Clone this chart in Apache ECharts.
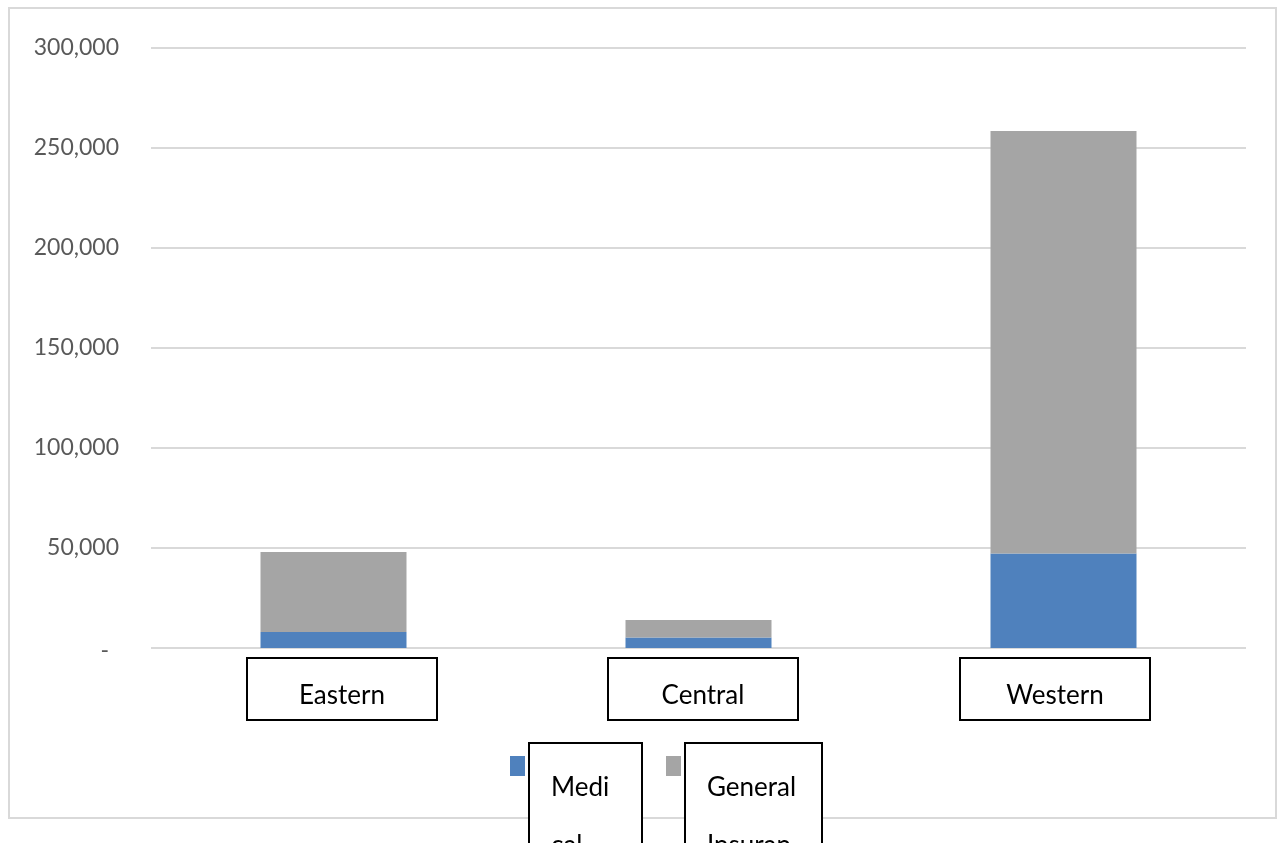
<!DOCTYPE html>
<html>
<head>
<meta charset="utf-8">
<script src="https://cdn.jsdelivr.net/npm/echarts@6/dist/echarts.min.js"></script>
<style>
  html, body { margin: 0; padding: 0; background: #fff; }
  #frame {
    position: absolute; left: 8px; top: 7px;
    width: 1265px; height: 808px;
    border: 2px solid #d9d9d9;
  }
  #chart { position: absolute; left: 0; top: 0; width: 1282px; height: 843px; }
</style>
</head>
<body>
<div id="frame"></div>
<div id="chart"></div>
<script>
const categories = ['Eastern', 'Central', 'Western'];
const seriesNames = ['Medical', 'General Insurance'];
const legendLabels = ['Medi\ncal', 'General\nInsuran\nce'];
const medical = [8000, 5200, 47300];
const general = [40000, 8800, 211200];
const yMin = 0;
const yMax = 300000;
const yStep = 50000;

const font = 'Lato';
const colors = ['#4f81bd', '#a5a5a5'];

// legend boxes: text box centred on the icon, so the icon path is as tall as the box
const lineH = 58;
const padTop = 9;
const padBottom = 20;

function boxLegend(i, left, contentWidth) {
  const label = legendLabels[i];
  const h = padTop + label.split('\n').length * lineH + padBottom;
  return {
    data: [seriesNames[i]],
    left: left,
    top: 742,
    padding: 0,
    itemWidth: 15,
    itemHeight: h,
    icon: 'path://M0 0H15M0 12H15V32H0ZM0 ' + h + 'H15',
    selectedMode: false,
    formatter: function() { return label; },
    textStyle: {
      fontFamily: font,
      fontSize: 26,
      color: '#000',
      lineHeight: lineH,
      width: contentWidth,
      padding: [padTop, 10, padBottom, 21],
      borderColor: '#000',
      borderWidth: 2,
      backgroundColor: '#fff'
    }
  };
}

// category label boxes sit a little off the tick, pushed by an empty spacer token
const spacerBefore = [17, 9, 0];
const spacerAfter = [0, 0, 17];

const chart = echarts.init(document.getElementById('chart'));
const option = {
  animation: false,
  grid: {
    left: 151,
    right: 36,
    top: 48,
    bottom: 195
  },
  legend: [
    boxLegend(0, 510, 80),
    boxLegend(1, 666, 104)
  ],
  xAxis: {
    type: 'category',
    data: categories,
    axisLine: { show: false },
    axisTick: { show: false },
    axisLabel: {
      margin: 10,
      interval: 0,
      formatter: function(v, idx) {
        let s = '';
        if (spacerBefore[idx]) s += '{s' + spacerBefore[idx] + '|}';
        s += '{c|' + v + '}';
        if (spacerAfter[idx]) s += '{s' + spacerAfter[idx] + '|}';
        return s;
      },
      rich: {
        c: {
          fontFamily: font,
          fontSize: 26,
          color: '#000',
          width: 190,
          lineHeight: 62,
          padding: [25, 0, 11, 0],
          borderColor: '#000',
          borderWidth: 2,
          align: 'center'
        },
        s17: { width: 17, lineHeight: 62 },
        s9: { width: 9, lineHeight: 62 }
      }
    }
  },
  yAxis: {
    type: 'value',
    min: yMin,
    max: yMax,
    interval: yStep,
    axisLine: { show: false },
    axisTick: { show: false },
    splitLine: { lineStyle: { color: '#d9d9d9', width: 2 } },
    axisLabel: {
      margin: 32,
      fontFamily: font,
      fontSize: 23,
      color: '#595959',
      formatter: function(v) {
        if (v === 0) return '{d|-}';
        return v.toLocaleString('en-US');
      },
      rich: {
        d: { fontFamily: font, fontSize: 23, color: '#595959', padding: [5, 10, 0, 0] }
      }
    }
  },
  series: [
    {
      type: 'bar',
      name: seriesNames[0],
      stack: 'total',
      barWidth: '40%',
      itemStyle: { color: colors[0] },
      data: medical
    },
    {
      type: 'bar',
      name: seriesNames[1],
      stack: 'total',
      barWidth: '40%',
      itemStyle: { color: colors[1] },
      data: general
    }
  ]
};
chart.setOption(option);
</script>
</body>
</html>
